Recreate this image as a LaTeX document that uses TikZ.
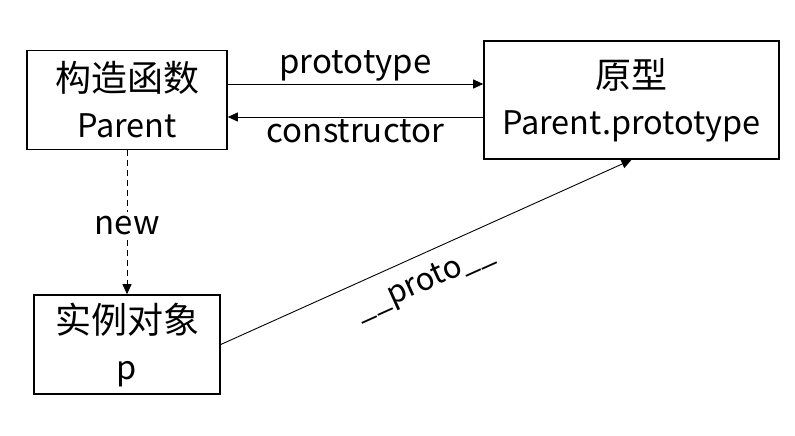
\documentclass[tikz,border=0pt]{standalone}
\usepackage{fontspec}
\setmainfont{Noto Sans CJK SC}
\usetikzlibrary{arrows.meta,calc}
\newcommand{\zh}[1]{{\fontsize{36}{46}\selectfont #1}}
\begin{document}
\begin{tikzpicture}[x=1pt,y=-1pt,
  box/.style={draw,line width=1.6pt,minimum width=#1,inner sep=0pt,align=center,
    font=\fontsize{32.5}{46}\selectfont},
  conn/.style={line width=0.9pt,-{Triangle[length=10pt,width=9pt]}},
  lbl/.style={font=\fontsize{33}{38}\selectfont,inner sep=2pt}]
\useasboundingbox (0,0) rectangle (795,436);
\node[box=200pt,minimum height=99pt] (A) at (127,100) {\zh{构造函数}\\Parent};
\node[box=295pt,minimum height=118pt] (B) at (631.5,100) {\zh{原型}\\Parent.prototype};
\node[box=186pt,minimum height=99pt] (C) at (127,344.5) {\zh{实例对象}\\p};
\draw[conn] ([yshift=16pt]A.east) -- ([yshift=16pt]A.east -| B.west)
  node[lbl,midway,above=0pt] {prototype};
\draw[conn,{Triangle[length=10pt,width=9pt]}-] ([yshift=-17pt]A.east) -- ([yshift=-17pt]A.east -| B.west)
  node[lbl,midway,below=0pt] {constructor};
\draw[conn,dash pattern=on 6pt off 4pt] (A.south) -- (C.north)
  node[lbl,pos=0.52,fill=white,inner sep=4pt] {new};
\draw[conn] (C.east) -- (B.south)
  node[lbl,pos=0.47,sloped,below=11pt,font=\fontsize{31}{36}\selectfont] {\_\_proto\_\_};
\end{tikzpicture}
\end{document}
